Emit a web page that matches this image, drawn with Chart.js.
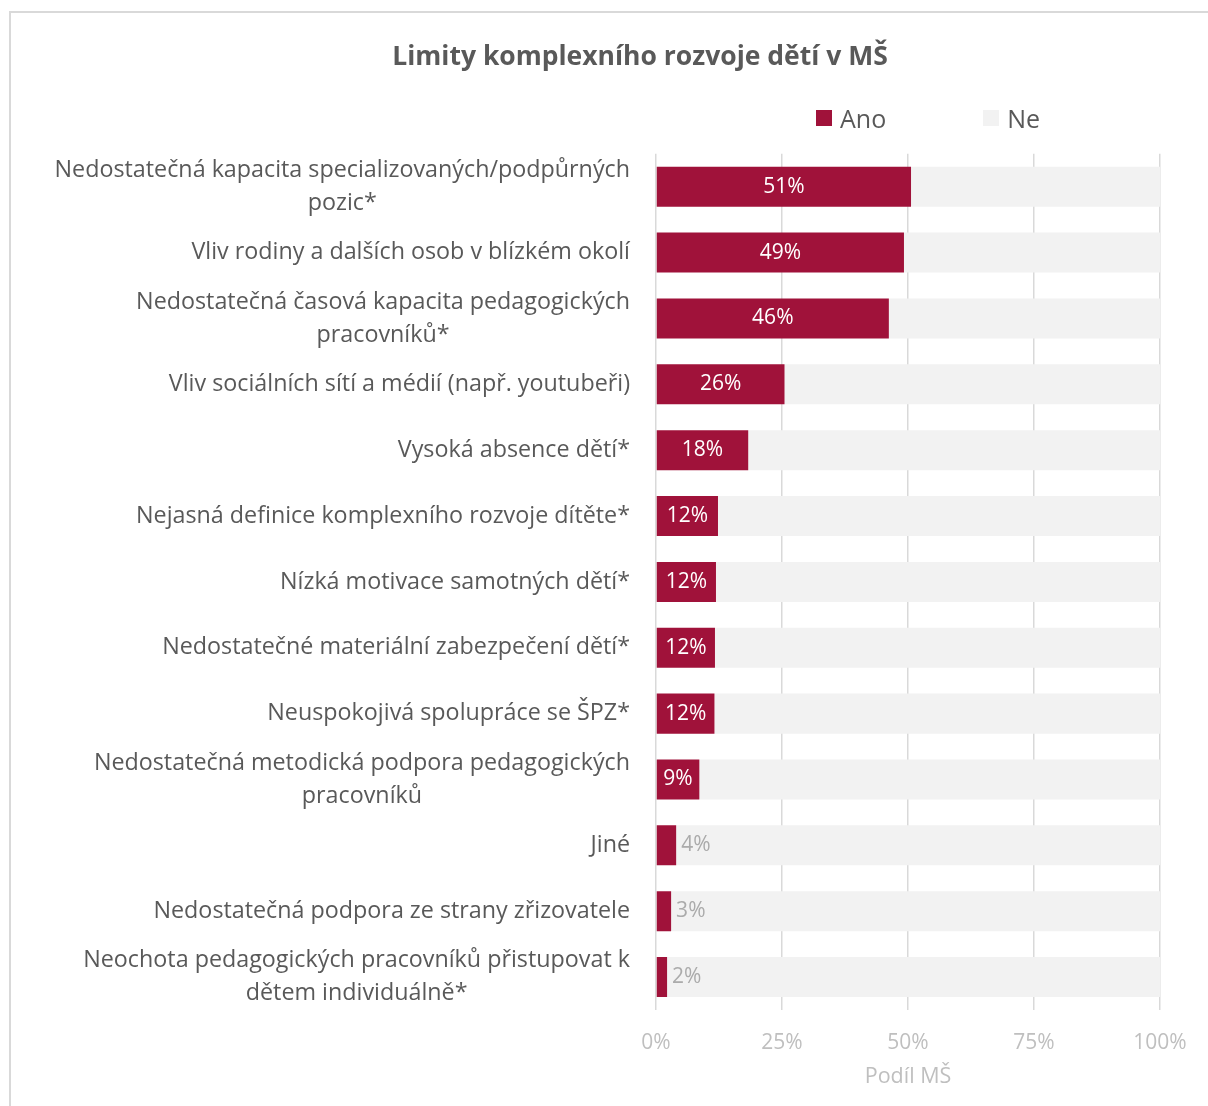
<!DOCTYPE html>
<html lang="cs">
<head>
    <meta charset="UTF-8">
    <title>Limity komplexního rozvoje dětí v MŠ</title>
    <style>
        html, body {
            margin: 0;
            padding: 0;
            background: #fff;
            overflow: hidden;
            font-family: "Open Sans", Arial, sans-serif;
        }
        .frame {
            position: absolute;
            left: 9px;
            top: 11px;
            width: 1400px;
            height: 1200px;
            border-left: 2px solid #D9D9D9;
            border-top: 2px solid #D9D9D9;
        }
        .wrap {
            position: absolute;
            left: 0;
            top: 0;
            width: 1280px;
            height: 1106px;
        }
        .legend {
            position: absolute;
            top: 101px;
            left: 816px;
            display: flex;
            align-items: center;
            font-size: 25px;
            color: #595959;
        }
        .legend span.box {
            display: inline-block;
            width: 16px;
            height: 16px;
            margin-right: 8px;
        }
        .legend .item {
            display: flex;
            align-items: center;
            margin-right: 97px;
        }
    </style>
    <script src="https://cdn.jsdelivr.net/npm/chart.js"></script>
</head>
<body>
<div class="frame"></div>
<div class="wrap">
    <canvas id="chart" width="1280" height="1106"></canvas>
</div>
<div class="legend" id="legend"></div>

<script>
    // categories (multi-line where the original wraps)
    const categories = [
        ['Nedostatečná kapacita specializovaných/podpůrných', 'pozic*'],
        'Vliv rodiny a dalších osob v blízkém okolí',
        ['Nedostatečná časová kapacita pedagogických', 'pracovníků*'],
        'Vliv sociálních sítí a médií (např. youtubeři)',
        'Vysoká absence dětí*',
        'Nejasná definice komplexního rozvoje dítěte*',
        'Nízká motivace samotných dětí*',
        'Nedostatečné materiální zabezpečení dětí*',
        'Neuspokojivá spolupráce se ŠPZ*',
        ['Nedostatečná metodická podpora pedagogických', 'pracovníků'],
        'Jiné',
        'Nedostatečná podpora ze strany zřizovatele',
        ['Neochota pedagogických pracovníků přistupovat k', 'dětem individuálně*']
    ];

    const anoValues = [50.6, 49.2, 46.2, 25.5, 18.3, 12.3, 11.9, 11.7, 11.6, 8.6, 4.0, 3.0, 2.2];
    const neValues = anoValues.map(v => 100 - v);

    const seriesNames = ['Ano', 'Ne'];
    const seriesColors = ['#A0123A', '#F2F2F2'];
    const xTicks = [0, 25, 50, 75, 100];

    const FONT = '"Open Sans", Arial, sans-serif';

    // legend in html
    const legendEl = document.getElementById('legend');
    seriesNames.forEach((name, i) => {
        const item = document.createElement('div');
        item.className = 'item';
        const box = document.createElement('span');
        box.className = 'box';
        box.style.background = seriesColors[i];
        item.appendChild(box);
        item.appendChild(document.createTextNode(name));
        legendEl.appendChild(item);
    });

    // category labels: block right aligned, lines centred on each other
    const categoryLabels = {
        id: 'categoryLabels',
        afterDraw(chart) {
            const ctx = chart.ctx;
            const yScale = chart.scales.y;
            ctx.save();
            ctx.font = '23.3px ' + FONT;
            ctx.fillStyle = '#595959';
            ctx.textAlign = 'center';
            ctx.textBaseline = 'middle';
            const right = yScale.right - 26;
            categories.forEach((lab, i) => {
                const lines = Array.isArray(lab) ? lab : [lab];
                const w = Math.max(...lines.map(l => ctx.measureText(l).width));
                const cx = right - w / 2;
                const yc = yScale.getPixelForValue(i);
                lines.forEach((l, j) => {
                    ctx.fillText(l, cx, yc + (j - (lines.length - 1) / 2) * 33);
                });
            });
            ctx.restore();
        }
    };

    // value labels on the Ano bars
    const barLabels = {
        id: 'barLabels',
        afterDatasetsDraw(chart) {
            const ctx = chart.ctx;
            const meta = chart.getDatasetMeta(0);
            ctx.save();
            ctx.font = '21px ' + FONT;
            ctx.textBaseline = 'middle';
            meta.data.forEach((bar, i) => {
                const v = anoValues[i];
                const txt = Math.round(v) + '%';
                if (v >= 5) {
                    ctx.fillStyle = '#FFFFFF';
                    ctx.textAlign = 'center';
                    ctx.fillText(txt, (bar.x + bar.base) / 2, bar.y);
                } else {
                    ctx.fillStyle = '#ABABAB';
                    ctx.textAlign = 'left';
                    ctx.fillText(txt, bar.x + 5, bar.y);
                }
            });
            ctx.restore();
        }
    };

    new Chart(document.getElementById('chart').getContext('2d'), {
        type: 'bar',
        data: {
            labels: categories,
            datasets: seriesNames.map((name, i) => ({
                label: name,
                data: i === 0 ? anoValues : neValues,
                backgroundColor: seriesColors[i],
                borderWidth: 0,
                barPercentage: 0.608,
                categoryPercentage: 1.0
            }))
        },
        options: {
            indexAxis: 'y',
            responsive: false,
            animation: false,
            layout: {
                padding: { left: 120, right: 120, top: 0, bottom: 0 }
            },
            plugins: {
                legend: { display: false },
                tooltip: { enabled: false },
                title: {
                    display: true,
                    text: 'Limity komplexního rozvoje dětí v MŠ',
                    color: '#595959',
                    font: { family: FONT, size: 26.5, weight: 'bold' },
                    padding: { top: 42, bottom: 80 }
                }
            },
            scales: {
                x: {
                    stacked: true,
                    min: 0,
                    max: 100,
                    afterBuildTicks(scale) {
                        scale.ticks = xTicks.map(v => ({ value: v }));
                    },
                    afterFit(scale) {
                        scale.height = 96;
                    },
                    grid: {
                        color: '#D9D9D9',
                        lineWidth: 1.5,
                        drawTicks: false
                    },
                    border: { display: false },
                    ticks: {
                        color: '#BFBFBF',
                        padding: 20,
                        font: { family: FONT, size: 21 },
                        callback: v => v + '%'
                    },
                    title: {
                        display: true,
                        text: 'Podíl MŠ',
                        color: '#BFBFBF',
                        font: { family: FONT, size: 21.5 },
                        padding: { top: 4, bottom: 16 }
                    }
                },
                y: {
                    stacked: true,
                    afterFit(scale) {
                        scale.width = 536;
                    },
                    grid: { display: false, drawTicks: false },
                    border: { display: false },
                    ticks: { display: false, autoSkip: false }
                }
            }
        },
        plugins: [barLabels, categoryLabels]
    });
</script>
</body>
</html>
